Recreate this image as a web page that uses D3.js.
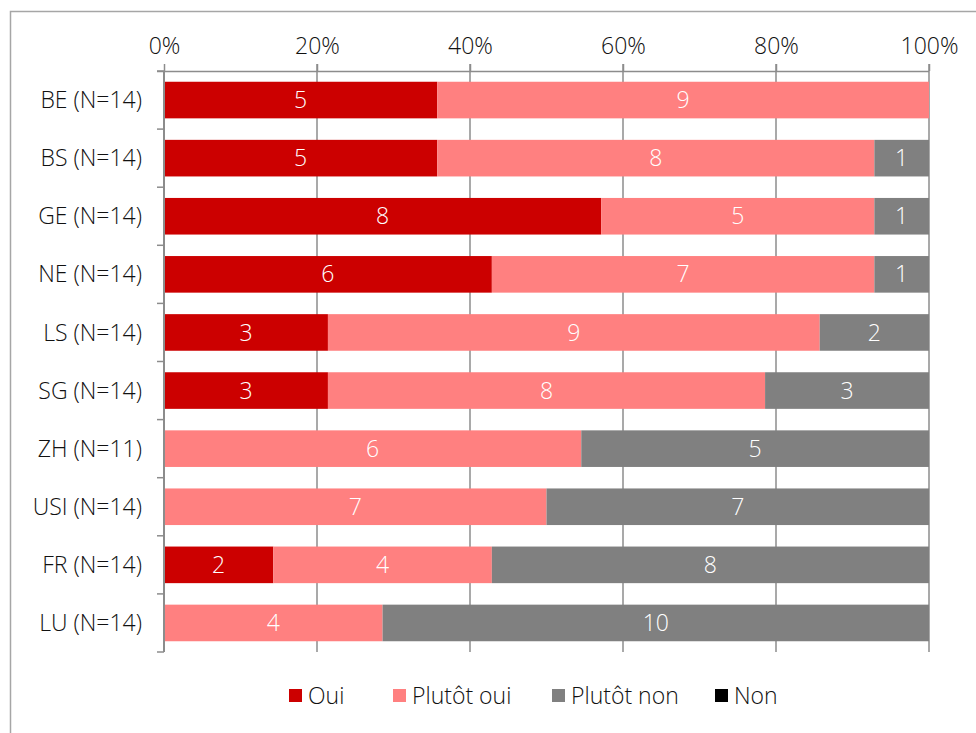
<!DOCTYPE html>
<html>
<head>
<meta charset="utf-8">
<script src="https://cdn.jsdelivr.net/npm/d3@7"></script>
<style>
  html, body { margin: 0; padding: 0; background: #fff; }
  svg { display: block; font-family: "Open Sans", "Noto Sans", sans-serif; font-weight: 300; }
</style>
</head>
<body>
<svg id="chart" width="976" height="733"></svg>
<script>
// Answers per institution
const categories = ["BE", "BS", "GE", "NE", "LS", "SG", "ZH", "USI", "FR", "LU"];
const totals     = [14, 14, 14, 14, 14, 14, 11, 14, 14, 14];
const oui        = [5, 5, 8, 6, 3, 3, 0, 0, 2, 0];
const plutotOui  = [9, 8, 5, 7, 9, 8, 6, 7, 4, 4];
const plutotNon  = [0, 1, 1, 1, 2, 3, 5, 7, 8, 10];
const non        = [0, 0, 0, 0, 0, 0, 0, 0, 0, 0];
const seriesNames = ["Oui", "Plutôt oui", "Plutôt non", "Non"];
const seriesColors = ["#cc0000", "#ff8080", "#808080", "#000000"];
const xTicks = [0, 0.2, 0.4, 0.6, 0.8, 1];

const svg = d3.select("#chart");
const FONT = "'Open Sans', 'Noto Sans', sans-serif";

// Outer frame
svg.append("rect")
  .attr("x", 10.5).attr("y", 11.5)
  .attr("width", 1100).attr("height", 1000)
  .attr("fill", "none").attr("stroke", "#a6a6a6").attr("stroke-width", 1.5);

const margin = { left: 164, right: 47, top: 71, bottom: 81 };
const W = 976, H = 733;

const rows = categories.map((c, i) => ({
  cat: c,
  label: `${c} (N=${totals[i]})`,
  vals: [oui[i], plutotOui[i], plutotNon[i], non[i]],
  n: totals[i]
}));

const x = d3.scaleLinear().domain([0, 1]).range([margin.left, W - margin.right]);
const y = d3.scaleBand().domain(categories).range([margin.top, H - margin.bottom])
  .paddingInner(0.37).paddingOuter(0.185);

const gridColor = "#8c8c8c";

// Vertical gridlines
svg.append("g").selectAll("line")
  .data(xTicks.slice(1))
  .join("line")
  .attr("x1", d => x(d)).attr("x2", d => x(d))
  .attr("y1", margin.top - 7).attr("y2", H - margin.bottom)
  .attr("stroke", gridColor).attr("stroke-width", 1.5);

// Top axis
const xAxis = d3.axisTop(x).tickValues(xTicks).tickFormat(d3.format(".0%")).tickSize(7).tickSizeOuter(0);
const gx = svg.append("g").attr("transform", `translate(0,${margin.top})`).call(xAxis);
gx.select(".domain").attr("stroke", gridColor).attr("stroke-width", 1.5)
  .attr("d", `M${margin.left - 7},0.5H${x(1)}`);
gx.selectAll(".tick line").attr("stroke", gridColor).attr("stroke-width", 1.5);
gx.selectAll(".tick text").attr("font-size", 23).attr("fill", "#111")
  .attr("font-family", FONT).attr("font-weight", 300).attr("y", -17);

// Stacked bars
const stackData = rows.map(r => {
  let acc = 0;
  return r.vals.map((v, k) => {
    const s = { cat: r.cat, k, v, x0: acc / r.n, x1: (acc + v) / r.n };
    acc += v;
    return s;
  });
}).flat().filter(d => d.v > 0);

const barH = y.bandwidth();

svg.append("g").selectAll("rect")
  .data(stackData)
  .join("rect")
  .attr("x", d => x(d.x0))
  .attr("y", d => y(d.cat))
  .attr("width", d => x(d.x1) - x(d.x0))
  .attr("height", barH)
  .attr("fill", d => seriesColors[d.k]);

svg.append("g").selectAll("text")
  .data(stackData)
  .join("text")
  .attr("x", d => (x(d.x0) + x(d.x1)) / 2)
  .attr("y", d => y(d.cat) + barH / 2)
  .attr("dy", "0.35em")
  .attr("text-anchor", "middle")
  .attr("font-size", 23)
  .attr("fill", "#ffffff")
  .text(d => d.v);

// Left axis with category boundaries
const gy = svg.append("g");
gy.append("line")
  .attr("x1", margin.left).attr("x2", margin.left)
  .attr("y1", margin.top).attr("y2", H - margin.bottom)
  .attr("stroke", gridColor).attr("stroke-width", 2);
const bounds = d3.range(categories.length + 1).map(i => margin.top + i * (H - margin.top - margin.bottom) / categories.length);
gy.selectAll("line.b")
  .data(bounds)
  .join("line")
  .attr("class", "b")
  .attr("x1", margin.left - 7).attr("x2", margin.left)
  .attr("y1", d => d).attr("y2", d => d)
  .attr("stroke", gridColor).attr("stroke-width", 1.5);
gy.selectAll("text")
  .data(rows)
  .join("text")
  .attr("x", margin.left - 22)
  .attr("y", d => y(d.cat) + barH / 2)
  .attr("dy", "0.35em")
  .attr("text-anchor", "end")
  .attr("font-size", 23)
  .attr("fill", "#111")
  .text(d => d.label);

// Legend
const legendX = [289, 393, 552, 715];
const legend = svg.append("g");
const li = legend.selectAll("g").data(seriesNames).join("g")
  .attr("transform", (d, i) => `translate(${legendX[i]},689)`);
li.append("rect").attr("width", 13).attr("height", 13).attr("fill", (d, i) => seriesColors[i]);
li.append("text").attr("x", 19).attr("y", 6.5).attr("dy", "0.35em")
  .attr("font-size", 23).attr("fill", "#111").text(d => d);
</script>
</body>
</html>
